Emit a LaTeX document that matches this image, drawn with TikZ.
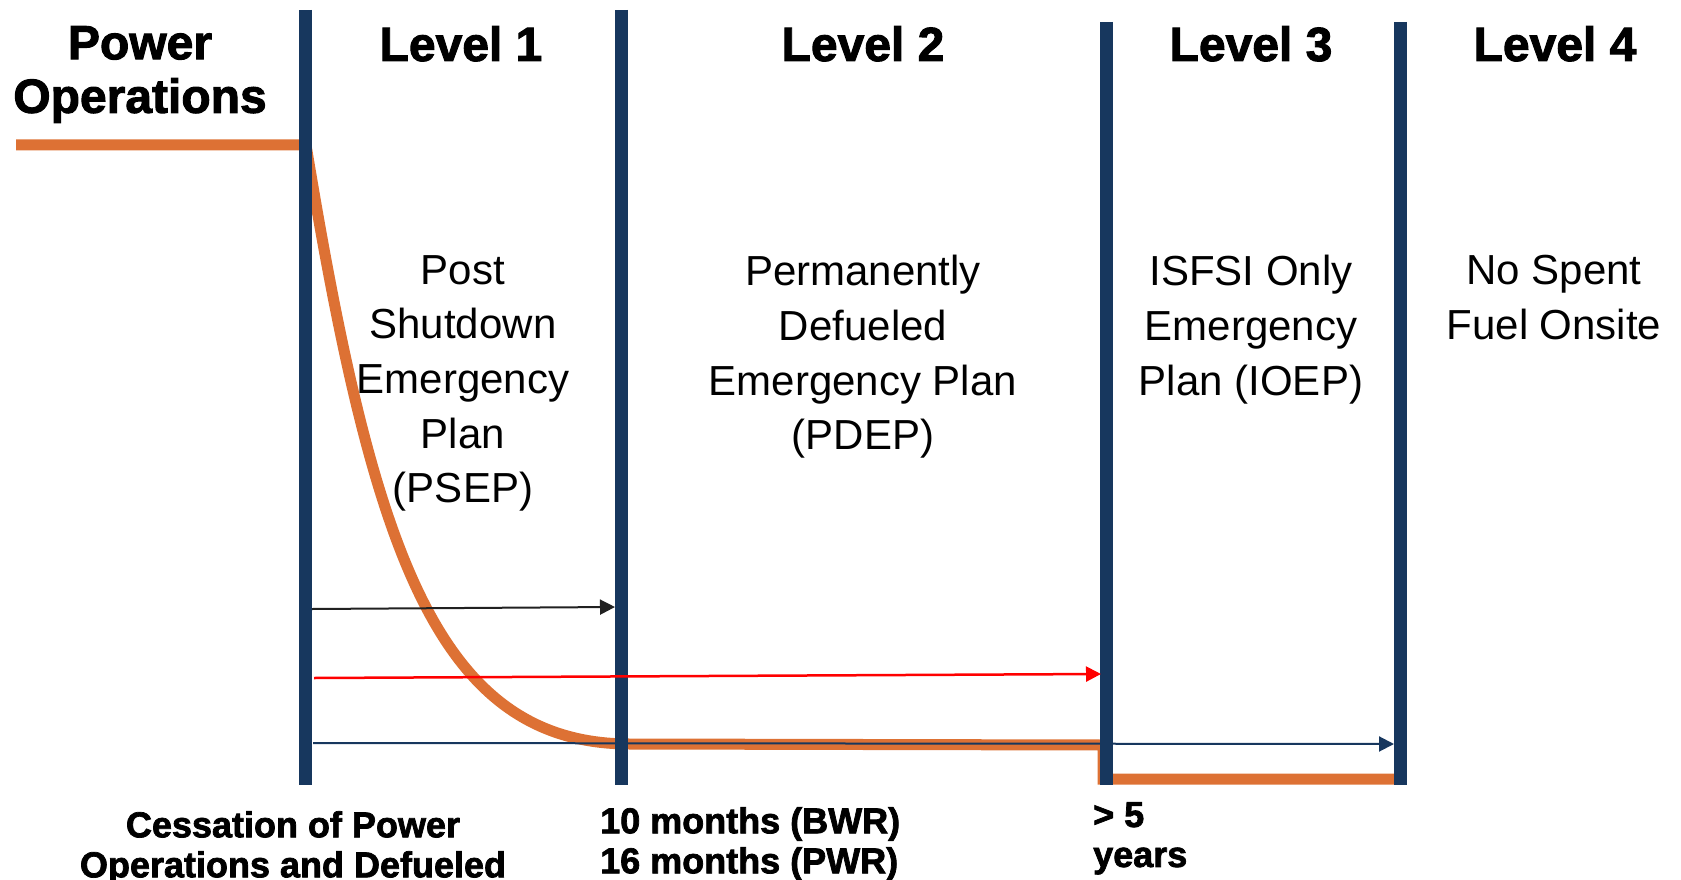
\documentclass[tikz,border=0pt]{standalone}
\usepackage{fontspec}
\setmainfont{Liberation Sans}
\newfontfamily\heavyfont{Liberation Sans Bold}[FakeBold=2]
\usetikzlibrary{arrows.meta}

\definecolor{barblue}{RGB}{23,55,94}
\definecolor{curveorange}{RGB}{221,113,52}

\begin{document}
\begin{tikzpicture}[
    x=1pt, y=-1pt,
    bar/.style={draw=barblue, line width=13pt},
    curve/.style={draw=curveorange, line width=11pt},
    span/.style={-{Triangle[length=15pt, width=15pt]}, line width=2pt},
    head/.style={font=\heavyfont\fontsize{48}{53.6}\selectfont, align=center, anchor=north, inner sep=0pt},
    plan/.style={font=\fontsize{42}{54.7}\selectfont, align=center, anchor=north, inner sep=0pt},
    timing/.style={font=\heavyfont\fontsize{36}{40}\selectfont, align=center, anchor=north, inner sep=0pt},
]
    \useasboundingbox (0,0) rectangle (1681,880);

    % emergency planning level over time
    \draw[curve] (16,145) -- (306,145)
        .. controls (372,545) and (435,744) .. (630,744)
        -- (1103,745) -- (1103,779) -- (1400,779);

    % phase boundaries
    \coordinate (b1t) at (305,10);   \coordinate (b1b) at (305,785);
    \coordinate (b2t) at (621,10);   \coordinate (b2b) at (621,785);
    \coordinate (b3t) at (1106,22);  \coordinate (b3b) at (1106,785);
    \coordinate (b4t) at (1400,22);  \coordinate (b4b) at (1400,785);
    \foreach \b in {1,2,3,4}
        \draw[bar] (b\b t) -- (b\b b);

    % durations
    \coordinate (s1) at (312,609);  \coordinate (e1) at (615,607);
    \coordinate (s2) at (314,678);  \coordinate (e2) at (1101,674);
    \coordinate (s3) at (313,743);  \coordinate (e3) at (1394,744);
    \draw[span, draw=black!87, fill=black!87] (s1) -- (e1);
    \draw[span, draw=red, fill=red, line width=2.5pt] (s2) -- (e2);
    \draw[span, draw=barblue, fill=barblue] (s3) -- (e3);

    \node[head] (power) at (140,26) {Power\\Operations};
    \node[head] (lvl1) at (461,26) {Level 1};
    \node[head] (lvl2) at (863,26) {Level 2};
    \node[head] (lvl3) at (1251,26) {Level 3};
    \node[head] (lvl4) at (1555,26) {Level 4};

    \node[plan] (psep) at (463,255) {Post\\Shutdown\\Emergency\\Plan\\(PSEP)};
    \node[plan] (pdep) at (863,255) {Permanently\\Defueled\\Emergency Plan\\(PDEP)};
    \node[plan] (ioep) at (1251,255) {ISFSI Only\\Emergency\\Plan (IOEP)};
    \node[plan] (nofuel) at (1554,255) {No Spent\\Fuel Onsite};

    \node[timing] (cease) at (293,811) {Cessation of Power\\Operations and Defueled};
    \node[timing, anchor=north west, align=left] (months) at (600,807) {10 months (BWR)\\16 months (PWR)};
    \node[timing, anchor=north west, align=left] (years) at (1093,802) {> 5\\years};
\end{tikzpicture}
\end{document}
